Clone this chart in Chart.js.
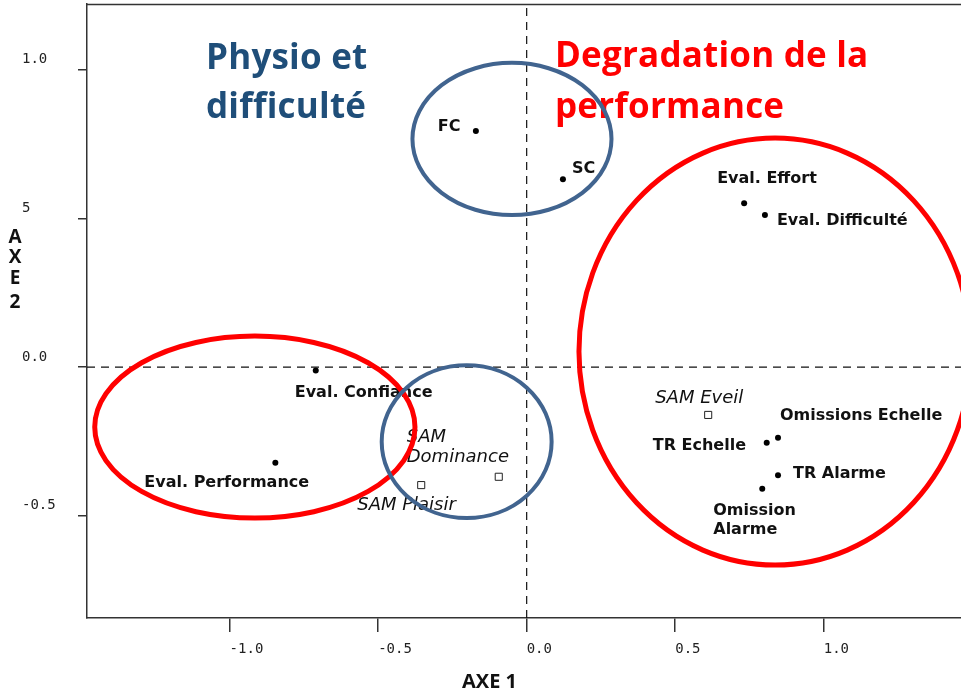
<!DOCTYPE html>
<html><head><meta charset="utf-8">
<script src="https://cdn.jsdelivr.net/npm/chart.js@4.4.0/dist/chart.umd.min.js"></script>
<style>html,body{margin:0;padding:0;background:#fff;} #wrap{width:961px;height:692px;position:relative;}</style>
</head><body><div id="wrap"><canvas id="c" width="961" height="692"></canvas></div>
<script>
// ---- data ----
const variableLabels = ['FC','SC','Eval. Effort','Eval. Difficulté','Eval. Confiance','Eval. Performance','TR Echelle','Omissions Echelle','TR Alarme','Omission\nAlarme'];
const axe1Values = [-0.171, 0.122, 0.732, 0.802, -0.710, -0.846, 0.808, 0.846, 0.846, 0.793];
const axe2Values = [0.794, 0.632, 0.551, 0.511, -0.012, -0.322, -0.255, -0.238, -0.364, -0.409];
const samLabels = ['SAM Eveil','SAM Plaisir','SAM\nDominance'];
const samAxe1 = [0.611, -0.355, -0.094];
const samAxe2 = [-0.161, -0.397, -0.369];
const xTickValues = [-1.0, -0.5, 0.0, 0.5, 1.0];
const xTickLabels = ['-1.0', '-0.5', '0.0', '0.5', '1.0'];
const yTickValues = [-0.5, 0.0, 0.5, 1.0];
const yTickLabels = ['-0.5', '0.0', '5', '1.0'];
const xRange = [-1.480, 1.462];
const yRange = [-0.844, 1.221];
const xTitle = 'AXE 1';
const yTitle = 'AXE 2';
const groupTitles = [['Physio et', 'difficulté'], ['Degradation de la', 'performance']];
// group ellipses in axis units: [centre x, centre y, radius x, radius y]
const blueGroups = [[-0.0495, 0.767, 0.335, 0.256], [-0.202, -0.251, 0.286, 0.257]];
const redGroups = [[0.836, 0.052, 0.660, 0.718], [-0.915, -0.202, 0.539, 0.306]];

// ---- layout / style (not data) ----
const varLabelOffsets = [[-38,0],[9,-6],[-27,-20],[12,10],[-21,26],[-131,24],[-114,7],[2,-18],[15,3],[-49,26]];
const samLabelOffsets = [[-53,-12],[-64,25],[-92,-35]];

const pts = axe1Values.map((v,i)=>({x:v, y:axe2Values[i]}));
const samPts = samAxe1.map((v,i)=>({x:v, y:samAxe2[i]}));

function drawLabelSet(ctx, meta, labels, offsets, font, lh){
  ctx.font = font;
  ctx.fillStyle = '#111';
  ctx.textAlign = 'left';
  ctx.textBaseline = 'alphabetic';
  meta.data.forEach((el,i)=>{
    const lines = labels[i].split('\n');
    lines.forEach((ln,k)=>{
      ctx.fillText(ln, el.x + offsets[i][0], el.y + offsets[i][1] + k*lh);
    });
  });
}

const overlay = {
  id:'overlay',
  beforeDraw(chart){
    const ctx = chart.ctx;
    ctx.save(); ctx.fillStyle='#fff'; ctx.fillRect(0,0,chart.width,chart.height); ctx.restore();
  },
  afterDatasetsDraw(chart){
    const ctx = chart.ctx, xs = chart.scales.x, ys = chart.scales.y, a = chart.chartArea;
    ctx.save();
    // top frame line
    ctx.strokeStyle = '#333'; ctx.lineWidth = 1.5;
    ctx.beginPath(); ctx.moveTo(a.left-0.75, a.top+0.5); ctx.lineTo(chart.width, a.top+0.5); ctx.stroke();
    // point labels
    drawLabelSet(ctx, chart.getDatasetMeta(0), variableLabels, varLabelOffsets, 'bold 16px "DejaVu Sans"', 19);
    drawLabelSet(ctx, chart.getDatasetMeta(1), samLabels, samLabelOffsets, 'italic 18px "DejaVu Sans"', 20);
    // group titles
    try { ctx.letterSpacing = '0.2px'; } catch(e) {}
    ctx.font = 'bold 35px "Open Sans"'; ctx.fillStyle = '#1F4E79';
    ctx.fillText(groupTitles[0][0], 206, 69);
    ctx.fillText(groupTitles[0][1], 206, 118);
    ctx.font = 'bold 35px "Open Sans"'; ctx.fillStyle = '#FF0000';
    ctx.fillText(groupTitles[1][0], 555, 67);
    ctx.fillText(groupTitles[1][1], 555, 118);
    try { ctx.letterSpacing = '0px'; } catch(e) {}
    // ellipses
    const ux = Math.abs(xs.getPixelForValue(1) - xs.getPixelForValue(0));
    const uy = Math.abs(ys.getPixelForValue(1) - ys.getPixelForValue(0));
    const drawEl = (e, col, w)=>{
      ctx.strokeStyle = col; ctx.lineWidth = w;
      ctx.beginPath();
      ctx.ellipse(xs.getPixelForValue(e[0]), ys.getPixelForValue(e[1]), e[2]*ux, e[3]*uy, 0, 0, Math.PI*2);
      ctx.stroke();
    };
    redGroups.forEach(e=>drawEl(e, '#FF0000', 5));
    blueGroups.forEach(e=>drawEl(e, '#41648F', 4));
    // axis titles
    ctx.fillStyle = '#111';
    ctx.font = 'bold 20px "Open Sans"';
    ctx.textAlign = 'left';
    ctx.fillText(xTitle, 462, 688);
    ctx.font = 'bold 19px "Open Sans"';
    ctx.textAlign = 'center';
    const letters = yTitle.replace(' ','').split('');
    const ybase = [243, 263, 284, 308];
    letters.forEach((ch,i)=>ctx.fillText(ch, 15, ybase[i]));
    ctx.restore();
  }
};

new Chart(document.getElementById('c'), {
  type: 'scatter',
  data: {
    datasets: [
      { data: pts, pointStyle:'circle', pointRadius:3, backgroundColor:'#000', borderColor:'#000', borderWidth:0 },
      { data: samPts, pointStyle:'rect', pointRadius:5, backgroundColor:'#fff', borderColor:'#222', borderWidth:1 },
      { data: [{x:0,y:yRange[0]},{x:0,y:yRange[1]}], showLine:true, pointRadius:0, borderColor:'#111', borderWidth:1.2, borderDash:[8,6] },
      { data: [{x:xRange[0],y:0},{x:xRange[1],y:0}], showLine:true, pointRadius:0, borderColor:'#111', borderWidth:1.2, borderDash:[8,6] }
    ]
  },
  options: {
    responsive:false, animation:false, devicePixelRatio:1, events:[],
    layout:{ autoPadding:false, padding:{ left:22, top:4, right:0, bottom:0 } },
    plugins:{ legend:{display:false}, tooltip:{enabled:false} },
    scales:{
      x:{
        type:'linear', min:xRange[0], max:xRange[1],
        afterBuildTicks: s=>{ s.ticks = xTickValues.map(v=>({value:v})); },
        afterFit: s=>{ s.height = 74; s.paddingLeft = 0; s.paddingRight = 0; },
        ticks:{ callback:(v)=>xTickLabels[xTickValues.indexOf(v)], align:'start', padding:9, autoSkip:false, maxRotation:0,
                font:{family:'"DejaVu Sans Mono"', size:14}, color:'#222' },
        grid:{ drawOnChartArea:false, drawTicks:true, tickLength:14, color:'#333', lineWidth:1.5 },
        border:{ display:true, color:'#333', width:1.5 }
      },
      y:{
        type:'linear', min:yRange[0], max:yRange[1],
        afterBuildTicks: s=>{ s.ticks = yTickValues.map(v=>({value:v})); },
        afterFit: s=>{ s.width = 65; s.paddingTop = 0; s.paddingBottom = 0; },
        ticks:{ callback:(v)=>yTickLabels[yTickValues.indexOf(v)], crossAlign:'far', labelOffset:-10, padding:10, autoSkip:false,
                font:{family:'"DejaVu Sans Mono"', size:14}, color:'#222' },
        grid:{ drawOnChartArea:false, drawTicks:true, tickLength:9, color:'#333', lineWidth:1.5 },
        border:{ display:true, color:'#333', width:1.5 }
      }
    }
  },
  plugins:[overlay]
});
</script>
</body></html>
